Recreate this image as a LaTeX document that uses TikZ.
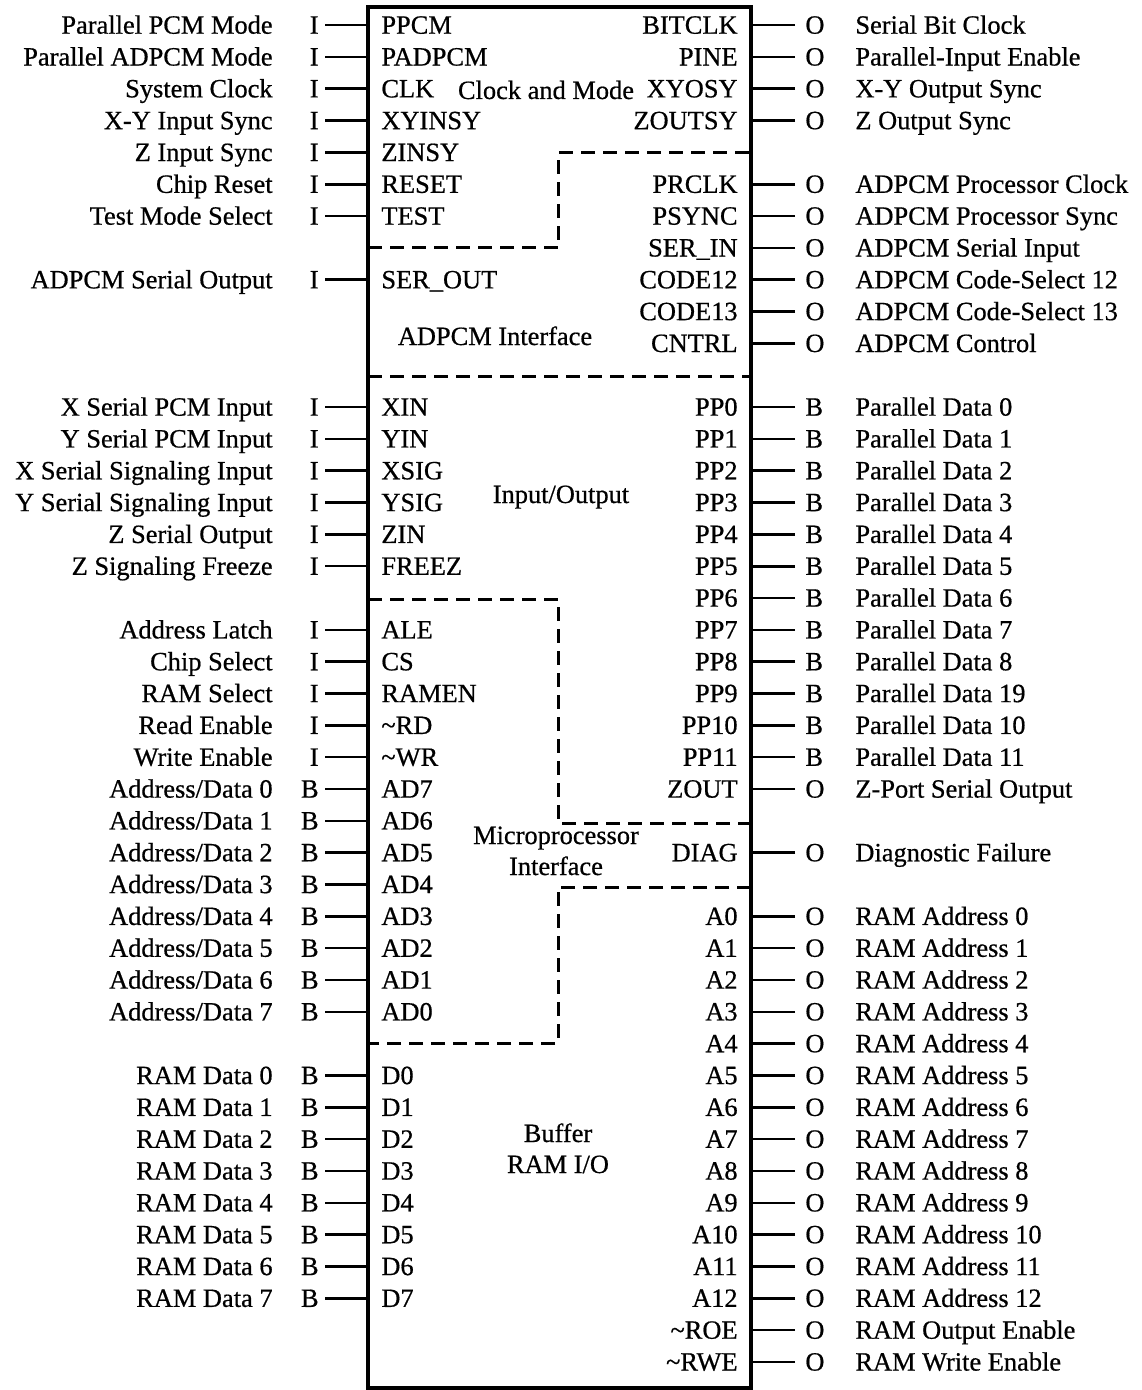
\documentclass[tikz,border=0pt]{standalone}
\usepackage{fontspec}
\setmainfont{Liberation Serif}[FakeBold=0.6]

% one pin on each side: row, pin name, I/O type, description
\newcommand{\lpin}[4]{%
  \node[pinname, anchor=base west] (pl#1) at (381,{33.7+31.83*#1}) {#2};
  \node[iotype, anchor=base east] (tl#1) at (319,{33.7+31.83*#1}) {#3};
  \node[pindesc, anchor=base east] (dl#1) at (273,{33.7+31.83*#1}) {#4};
  \draw[pinline, shorten <=3pt] (tl#1.east) -- (tl#1.east -| chip.west);}
\newcommand{\rpin}[4]{%
  \node[pinname, anchor=base east] (pr#1) at (738,{33.7+31.83*#1}) {#2};
  \node[iotype, anchor=base west] (tr#1) at (805,{33.7+31.83*#1}) {#3};
  \node[pindesc, anchor=base west] (dr#1) at (855,{33.7+31.83*#1}) {#4};
  \draw[pinline, shorten <=5pt] (tr#1.west) -- (tr#1.west -| chip.east);}

\begin{document}
\begin{tikzpicture}[x=0.5pt,y=-0.5pt,
    font=\fontsize{13.2}{15.5}\selectfont,
    pinname/.style={inner sep=0pt},
    iotype/.style={inner sep=0pt},
    pindesc/.style={inner sep=0pt},
    pinline/.style={line width=1.3pt},
    part/.style={line width=1.5pt, dash pattern=on 7pt off 4pt},
    block/.style={anchor=base, align=center, inner sep=0pt}]

\useasboundingbox (0,0) rectangle (1141,1390);

% chip outline
\node[draw, line width=1.6pt, inner sep=0pt, minimum width=191.5pt,
      minimum height=690.5pt] (chip) at (559.5,697.5) {};

% partitions
\draw[part] (368,248) -- (558,248) -- (558,153) -- (751,153);
\draw[part] (368,376) -- (751,376);
\draw[part] (368,599) -- (558,599) -- (558,823) -- (751,823);
\draw[part] (751,887) -- (558,887) -- (558,1043) -- (368,1043);

% block names (base = last line)
\node[block] (clkmode) at (546,99) {Clock and Mode};
\node[block] (adpcmif) at (495,345) {ADPCM Interface};
\node[block] (inout) at (561,503) {Input/Output};
\node[block] (mpuif) at (556,875) {Microprocessor\\Interface};
\node[block] (bufram) at (558,1173) {Buffer\\RAM I/O};

% left pins
\foreach \k/\pin/\io/\desc in {
    0/PPCM/I/Parallel PCM Mode,
    1/PADPCM/I/Parallel ADPCM Mode,
    2/CLK/I/System Clock,
    3/XYINSY/I/X-Y Input Sync,
    4/ZINSY/I/Z Input Sync,
    5/RESET/I/Chip Reset,
    6/TEST/I/Test Mode Select,
    8/SER\_OUT/I/ADPCM Serial Output,
    12/XIN/I/X Serial PCM Input,
    13/YIN/I/Y Serial PCM Input,
    14/XSIG/I/X Serial Signaling Input,
    15/YSIG/I/Y Serial Signaling Input,
    16/ZIN/I/Z Serial Output,
    17/FREEZ/I/Z Signaling Freeze,
    19/ALE/I/Address Latch,
    20/CS/I/Chip Select,
    21/RAMEN/I/RAM Select,
    22/\textasciitilde RD/I/Read Enable,
    23/\textasciitilde WR/I/Write Enable}
  {\lpin{\k}{\pin}{\io}{\desc}}
\foreach \i [evaluate=\i as \k using int(24+\i),
             evaluate=\i as \n using int(7-\i)] in {0,...,7}
  {\lpin{\k}{AD\n}{B}{Address/Data \i}}
\foreach \i [evaluate=\i as \k using int(33+\i)] in {0,...,7}
  {\lpin{\k}{D\i}{B}{RAM Data \i}}

% right pins
\foreach \k/\pin/\io/\desc in {
    0/BITCLK/O/Serial Bit Clock,
    1/PINE/O/Parallel-Input Enable,
    2/XYOSY/O/X-Y Output Sync,
    3/ZOUTSY/O/Z Output Sync,
    5/PRCLK/O/ADPCM Processor Clock,
    6/PSYNC/O/ADPCM Processor Sync,
    7/SER\_IN/O/ADPCM Serial Input,
    8/CODE12/O/ADPCM Code-Select 12,
    9/CODE13/O/ADPCM Code-Select 13,
    10/CNTRL/O/ADPCM Control,
    12/PP0/B/Parallel Data 0,
    13/PP1/B/Parallel Data 1,
    14/PP2/B/Parallel Data 2,
    15/PP3/B/Parallel Data 3,
    16/PP4/B/Parallel Data 4,
    17/PP5/B/Parallel Data 5,
    18/PP6/B/Parallel Data 6,
    19/PP7/B/Parallel Data 7,
    20/PP8/B/Parallel Data 8,
    21/PP9/B/Parallel Data 19,
    22/PP10/B/Parallel Data 10,
    23/PP11/B/Parallel Data 11,
    24/ZOUT/O/Z-Port Serial Output,
    26/DIAG/O/Diagnostic Failure,
    41/\textasciitilde ROE/O/RAM Output Enable,
    42/\textasciitilde RWE/O/RAM Write Enable}
  {\rpin{\k}{\pin}{\io}{\desc}}
\foreach \i [evaluate=\i as \k using int(28+\i)] in {0,...,12}
  {\rpin{\k}{A\i}{O}{RAM Address \i}}

\end{tikzpicture}
\end{document}
